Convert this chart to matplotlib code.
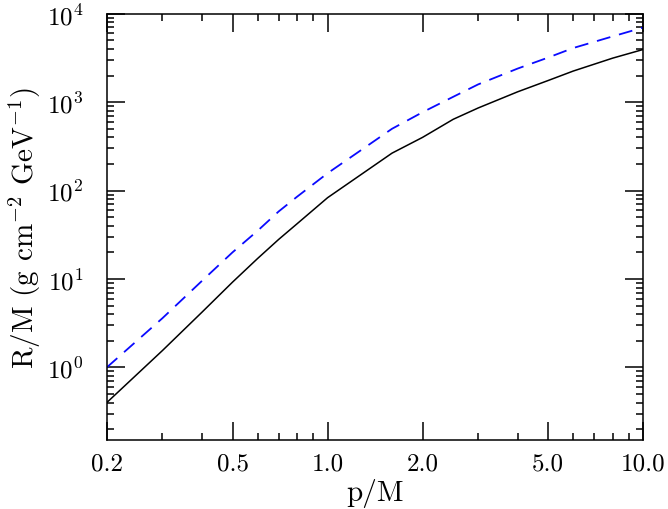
import matplotlib
matplotlib.use("Agg")
import matplotlib.pyplot as plt
from matplotlib.ticker import FixedLocator, FixedFormatter, NullFormatter

plt.rcParams['font.family'] = 'serif'
plt.rcParams['font.serif'] = ['cmr10', 'DejaVu Serif']
plt.rcParams['mathtext.fontset'] = 'cm'
plt.rcParams['axes.unicode_minus'] = False
plt.rcParams['lines.scale_dashes'] = False

# p/M values
p_over_m = [0.2, 0.3, 0.4, 0.5, 0.6, 0.7, 0.8, 1.0, 1.6, 2.0, 2.5, 3.0, 4.0, 5.0, 6.0, 8.0, 10.0]
# R/M, solid black curve
range_solid = [0.40, 1.55, 4.2, 9.2, 17, 28, 42, 83, 265, 400, 640, 860, 1310, 1760, 2250, 3150, 3950]
# R/M, dashed blue curve
range_dashed = [1.0, 3.6, 9.5, 20, 35, 58, 85, 157, 500, 770, 1150, 1590, 2400, 3200, 4100, 5550, 7000]

x_ticks = [0.2, 0.5, 1.0, 2.0, 5.0, 10.0]
x_ticklabels = ['0.2', '0.5', '1.0', '2.0', '5.0', '10.0']
x_minor = [0.3, 0.4, 0.6, 0.7, 0.8, 0.9, 3, 4, 6, 7, 8, 9]
y_ticks = [1, 10, 100, 1000, 10000]
y_ticklabels = ['$10^{0}$', '$10^{1}$', '$10^{2}$', '$10^{3}$', '$10^{4}$']

fig = plt.figure(figsize=(6.68, 5.10), dpi=100)
ax = fig.add_axes([0.160, 0.135, 0.803, 0.836])

ax.plot(p_over_m, range_solid, color='black', lw=1.1, linestyle='-')
ax.plot(p_over_m, range_dashed, color='#0a0aff', lw=1.3, linestyle=(0, (10, 6.5)))

ax.set_xscale('log')
ax.set_yscale('log')
ax.set_xlim(0.2, 10.0)
ax.set_ylim(0.15, 1e4)

ax.xaxis.set_major_locator(FixedLocator(x_ticks))
ax.xaxis.set_major_formatter(FixedFormatter(x_ticklabels))
ax.xaxis.set_minor_locator(FixedLocator(x_minor))
ax.xaxis.set_minor_formatter(NullFormatter())

y_minor = [m * 10.0 ** e for e in range(-1, 4) for m in range(2, 10)]
ax.yaxis.set_major_locator(FixedLocator(y_ticks))
ax.yaxis.set_major_formatter(FixedFormatter(y_ticklabels))
ax.yaxis.set_minor_locator(FixedLocator(y_minor))
ax.yaxis.set_minor_formatter(NullFormatter())

for s in ax.spines.values():
    s.set_linewidth(1.1)
ax.tick_params(which='both', direction='in', top=True, right=True, width=1.1)
ax.tick_params(axis='x', labelsize=18)
ax.tick_params(axis='y', labelsize=18)
ax.tick_params(which='major', length=13)
ax.tick_params(which='minor', length=5)
ax.tick_params(axis='x', which='major', pad=9)
ax.tick_params(axis='y', which='major', pad=17)

ax.set_xlabel('p/M', fontsize=21, labelpad=2)
ax.set_ylabel(r'R/M (g cm$^{-2}$ GeV$^{-1}$)', fontsize=21, labelpad=3)

fig.savefig('out.png', dpi=100)
